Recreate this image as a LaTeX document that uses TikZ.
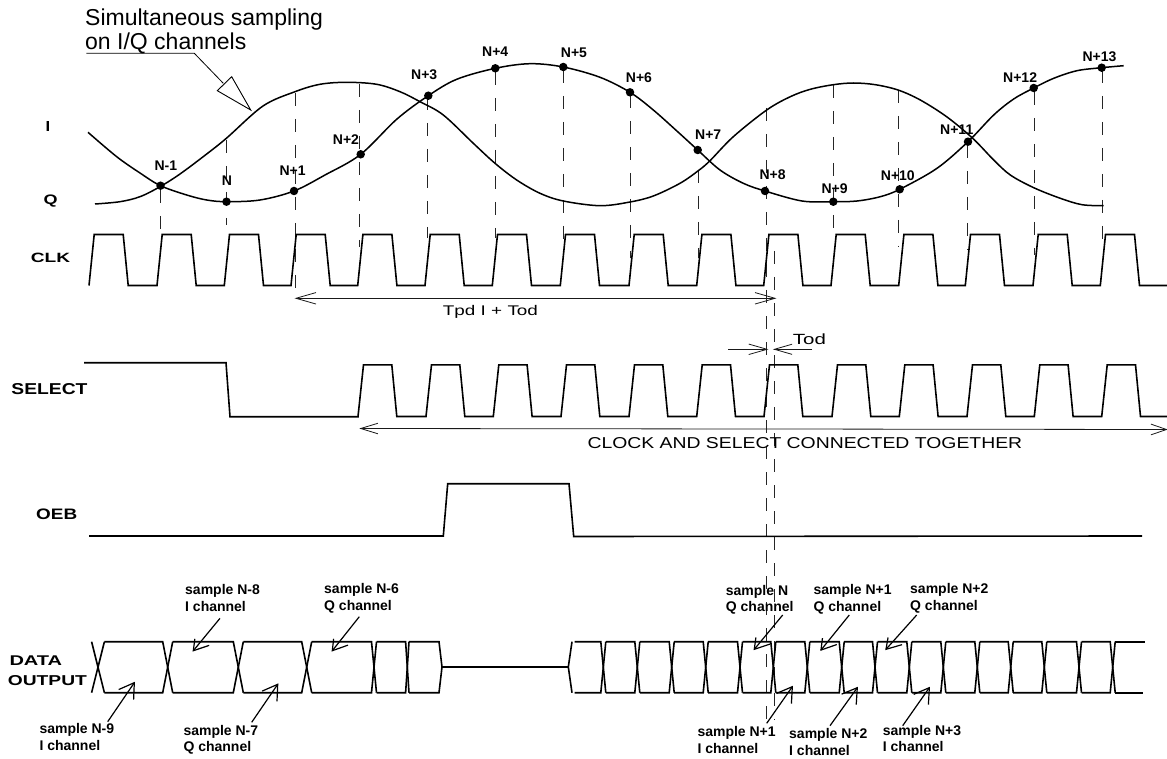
\documentclass[tikz,border=0pt]{standalone}
\usepackage{graphicx}
\usepackage{fontspec}
\setmainfont{Liberation Sans}
\usetikzlibrary{calc}
\newcommand{\fitbox}[3]{\resizebox{#1pt}{#2pt}{#3}}
% open V head at #1 for a line coming from #2: barb lengths #3, #4, half angle #5
\newcommand{\vhead}[6][]{\draw[#1] ($(#2)!#4pt!#6:(#3)$) -- (#2) -- ($(#2)!#5pt!-#6:(#3)$);}
\def\bustop{641.7}
\def\busbot{692.7}
\tikzset{
  wave/.style={line width=1.6pt,line join=miter},
  sig/.style={line width=1.5pt,line join=round},
  guide/.style={line width=0.8pt,dash pattern=on 13pt off 13pt,black!85},
  pt/.style={circle,fill=black,inner sep=0pt,minimum size=8.5pt},
  ptlabel/.style={anchor=base west,inner sep=0pt,font=\fontsize{14}{16}\selectfont\bfseries},
  side/.style={anchor=base west,inner sep=0pt,font=\bfseries},
  thin label/.style={anchor=base west,inner sep=0pt},
  samp/.style={anchor=north west,inner sep=0pt,align=left,font=\fontsize{14}{16.7}\selectfont\bfseries},
  samparrow/.style={line width=1.2pt,line join=miter},
  dim/.style={line width=0.8pt,black!90},
}
\begin{document}
\begin{tikzpicture}[x=1pt,y=-1pt]
\useasboundingbox (0,0) rectangle (1167,759);

% dashed sampling guides
\foreach \x/\a/\b in {160/190/240,226/140/225,295/93/300,359.5/84/247,427.3/97/238,495.3/72/238,563.7/70/240,630.5/95/258,698/170/258,833.3/85/240,898/90/247,967.7/145/250,1034/92/255,1102.7/70/240}
  \draw[guide] (\x,\a) -- (\x,\b);
\draw[guide] (766.3,108) -- (766.3,723);
\draw[guide] (774.3,251) -- (774.3,720);

% I and Q curves
\draw[sig] plot[smooth,tension=0.55] coordinates {(88,132.3)(116.7,156.7)(140,173)(160.5,185.7)(186.7,195)(206.7,200)(226.7,201.7)(260,200)(294,191)(325,175)(360.5,154.5)(397,119)(428.3,95.7)(456.7,79.3)(495.3,68.3)(530,63.7)(563.3,67)(600,77.3)(630,92.3)(653.3,110)(678.3,132.3)(697.7,150)(720,170)(743.3,183.3)(765,191)(802,201)(833.3,201.7)(857,201)(880.3,196.7)(899.7,189.3)(937,168.3)(968,141.7)(993.7,115)(1013.7,99)(1033.7,88)(1053.7,78.3)(1077,70.7)(1101.7,67.7)(1123.7,65.7)};
\draw[sig] plot[smooth,tension=0.55] coordinates {(95,204)(120,201.7)(140,196.7)(160,186.7)(180,174)(206.7,154)(226.7,138)(263,106)(295,91.7)(320,84.3)(346.7,82.3)(376.7,84.3)(400,91.7)(420,101.7)(443.3,115)(473.3,143.3)(495,163.3)(516.7,180)(540,193.3)(563.3,201)(600,205.7)(630,202)(653.3,196)(680,183.3)(698.3,170.7)(710,160.7)(733.3,136.7)(766.7,110)(790.3,96.7)(810.3,89.3)(833.3,84.7)(853.7,83)(875.3,84.7)(898,90)(920.3,100)(947,117)(972.7,138.3)(993.7,160)(1010.3,175)(1033.7,187.7)(1060.3,198.3)(1082,204.7)(1103.7,205.7)};

% sample points
\foreach \i/\x/\y/\lx/\ly/\t in {
  a/160.5/185.7/154.3/171/N-1,
  b/226.5/201.7/221.7/186/N,
  c/294/191/279.3/176/N+1,
  d/360.7/154.3/332.7/145/N+2,
  e/428.3/95.7/411/79.3/N+3,
  f/495.3/68.3/482/56.7/N+4,
  g/563.3/67/560.7/57.3/N+5,
  h/630/92.3/625.7/82.3/N+6,
  j/697.7/150/695/140/N+7,
  k/765/191/759.3/180/N+8,
  l/833.3/201.7/821.3/193.3/N+9,
  m/899.7/189.3/880.7/181/N+10,
  n/968/141.7/940/134.3/N+11,
  o/1033.7/88/1003/82.3/N+12,
  p/1101.7/67.7/1082.3/62/N+13}{
  \node[pt] (dot\i) at (\x,\y) {};
  \node[ptlabel] (lab\i) at (\lx,\ly) {\t};
}

% callout
\node[thin label,font=\fontsize{23}{24}\selectfont] (callA) at (85,26) {Simultaneous sampling};
\node[thin label,font=\fontsize{23}{24}\selectfont] (callB) at (85,50) {on I/Q channels};
\coordinate (calltail) at (86.3,53.3);
\coordinate (callbend) at (194.3,53.3);
\coordinate (callbase) at (223.3,83.3);
\draw[line width=0.8pt] (calltail) -- (callbend) -- (callbase);
\draw[line width=0.9pt,line join=miter] (231.7,76.7) -- (250.7,110) -- (217.3,90.7) -- cycle;

% side labels
\node[side] (lI) at (45.3,131.7) {\fitbox{4.6}{10}{I}};
\node[side] (lQ) at (43.3,205) {\fitbox{14}{9.6}{Q}};
\node[side] (lCLK) at (30.7,262) {\fitbox{39.3}{9.4}{CLK}};
\node[side] (lSEL) at (11.3,394.3) {\fitbox{76}{11}{SELECT}};
\node[side] (lOEB) at (36,519.3) {\fitbox{41}{10.6}{OEB}};
\node[side] (lDATA) at (9.3,665.7) {\fitbox{52.7}{9.7}{DATA}};
\node[side] (lOUT) at (7.7,685) {\fitbox{79}{10}{OUTPUT}};

% CLK
\draw[wave] (89,285.5) \foreach \x in {89,157,224.3,291,357.7,425,492.3,560.3,629,696.7,763.7,831,898.7,965.3,1033,1100.3}{
  -- (\x,285.5) -- ++(5.2,-51) -- ++(29,0) -- ++(5,51)} -- (1167,285.5);

% SELECT
\draw[wave] (84,362.7) -- (226,362.7) -- (230,416.7) -- (358,416.7)
  \foreach \x in {358,426,493.3,561,629,696.7,764,832,899.3,967,1034.3,1101.7}{
  -- (\x,416.5) -- ++(5.5,-51.7) -- ++(28.3,0) -- ++(5,51.7)} -- (1167,416.5);

% OEB
\draw[wave] (89,536) -- (443.3,536) -- (447.7,483.7) -- (569,483.7) -- (573.7,536.5) -- (1142,536);

% dimension arrows
\coordinate (tpdL) at (296,298.3);
\coordinate (tpdR) at (775,298.3);
\draw[dim] (tpdL) -- (tpdR);
\vhead[dim]{tpdL}{tpdR}{20.8}{20.8}{16}
\vhead[dim]{tpdR}{tpdL}{20.8}{20.8}{16}
\node[thin label] (tpd) at (442.7,316) {\scalebox{1.35}[1]{\fontsize{14}{16}\selectfont Tpd I + Tod}};
\coordinate (todL) at (728.3,349.3);
\coordinate (todLt) at (767,349.3);
\coordinate (todR) at (812,349.3);
\coordinate (todRt) at (774.4,349.3);
\draw[dim] (todL) -- (todLt);
\draw[dim] (todR) -- (todRt);
\vhead[dim]{todLt}{todL}{19}{19}{16}
\vhead[dim]{todRt}{todR}{18.4}{18.4}{16}
\node[thin label] (tod) at (792.7,344) {\fitbox{33}{10.7}{Tod}};
\coordinate (cksL) at (360.7,428.5);
\coordinate (cksR) at (1166.5,429.5);
\draw[dim] (cksL) -- (cksR);
\vhead[dim]{cksL}{cksR}{18}{18}{17}
\vhead[dim]{cksR}{cksL}{16.5}{16.5}{19}
\node[thin label] (cks) at (587.3,448.3) {\fitbox{434.7}{11}{CLOCK AND SELECT CONNECTED TOGETHER}};

% data bus, left part
\foreach \a/\ha/\b/\hb in {98/6.4/167.7/5,167.7/5/238.3/5,238.3/5/306.7/5,306.7/5/374/2.5,374/2.5/407.3/1.7}{
  \draw[wave] ({\a+\ha},\bustop) -- ({\b-\hb},\bustop) -- ({\b+\hb},\busbot);
  \draw[wave] ({\a+\ha},\busbot) -- ({\b-\hb},\busbot) -- ({\b+\hb},\bustop);
}
\draw[wave] (91.6,\bustop) -- (104.4,\busbot);
\draw[wave] (91.6,\busbot) -- (104.4,\bustop);
\draw[wave] (409,\bustop) -- (439,\bustop) -- (442,667) -- (439,\busbot) -- (409,\busbot);
\draw[wave] (442,667) -- (568.3,667);

% data bus, right part
\draw[wave] (572,\bustop) -- (568.3,667) -- (572,\busbot);
\foreach \a/\b in {572/603.3,603.3/637.3,637.3/671.7,671.7/705.7,705.7/740,740/773.3,773.3/807.3,807.3/841.7,841.7/875,875/909.3,909.3/943.3,943.3/977.3,977.3/1010.7,1010.7/1044.3,1044.3/1079,1079/1112.7}{
  \draw[wave] ({\a+2.5},\bustop) -- ({\b-2.5},\bustop) -- ({\b+2.5},\busbot);
  \draw[wave] ({\a+2.5},\busbot) -- ({\b-2.5},\busbot) -- ({\b+2.5},\bustop);
}
\draw[wave] (1115.2,\bustop) -- (1145,\bustop);
\draw[wave] (1115.2,\busbot) -- (1143,\busbot);

% sample labels and arrows
\node[samp] (s8)  at (185,584.1)   {sample N-8\\I channel};
\node[samp] (s6)  at (324,583.1)   {sample N-6\\Q channel};
\node[samp] (s9)  at (39.3,723.1)  {sample N-9\\I channel};
\node[samp] (s7)  at (183.3,724.8) {sample N-7\\Q channel};
\node[samp] (sN)  at (725.7,584.8) {sample N\\Q channel};
\node[samp] (sQ1) at (813.3,584.1) {sample N+1\\Q channel};
\node[samp] (sQ2) at (910,583.1)   {sample N+2\\Q channel};
\node[samp] (sI1) at (697.3,726.5) {sample N+1\\I channel};
\node[samp] (sI2) at (789,728.1)   {sample N+2\\I channel};
\node[samp] (sI3) at (882.7,724.8) {sample N+3\\I channel};

\foreach \i/\tx/\ty/\hx/\hy/\la/\lb in {
  a/220/618.3/193.3/650.7/12/16.7,
  b/359.3/616.7/332.3/650.7/12/16.7,
  e/782.7/615/754.3/649.3/12/16.7,
  f/849.3/615/821/650/12/16.7,
  g/916.7/615/886/649.3/12/16.7,
  c/107.7/721.7/134.3/682.7/17/17,
  d/251.7/722.3/277.7/684.3/17/17,
  h/766.7/723.3/792.3/686.7/17/17,
  j/830/725.7/857.3/687.7/17/17,
  k/902.7/725.7/929.3/687.7/17/17}{
  \coordinate (tail\i) at (\tx,\ty);
  \coordinate (head\i) at (\hx,\hy);
  \draw[samparrow] (tail\i) -- (head\i);
  \vhead[samparrow]{head\i}{tail\i}{\la}{\lb}{32}
}
\end{tikzpicture}
\end{document}
